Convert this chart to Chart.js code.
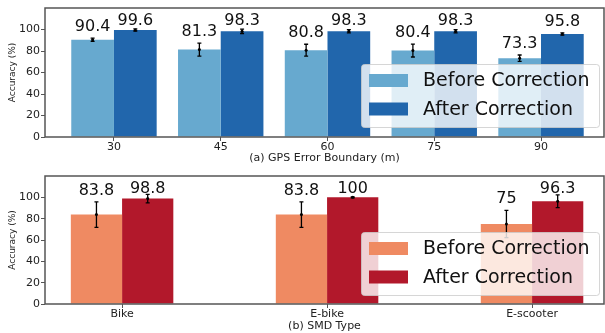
<!DOCTYPE html>
<html>
<head>
<meta charset="utf-8">
<script src="https://cdn.jsdelivr.net/npm/chart.js@4.4.1/dist/chart.umd.min.js"></script>
<style>
  body { margin: 0; background: #fff; }
  canvas { display: block; }
</style>
</head>
<body>
<canvas id="gpsChart" width="605" height="165"></canvas>
<canvas id="smdChart" width="605" height="168"></canvas>
<script>
// (a) GPS error boundary
var gpsLabels = ['30', '45', '60', '75', '90'];
var gpsBefore = [90.4, 81.3, 80.8, 80.4, 73.3];
var gpsAfter = [99.6, 98.3, 98.3, 98.3, 95.8];
var gpsBeforeErr = [1.5, 6, 5.5, 6, 3];
var gpsAfterErr = [1, 2, 1.5, 1.5, 1];

// (b) SMD type
var smdLabels = ['Bike', 'E-bike', 'E-scooter'];
var smdBefore = [83.8, 83.8, 75];
var smdAfter = [98.8, 100, 96.3];
var smdBeforeErr = [12, 12, 12.8];
var smdAfterErr = [4, 0.5, 6];

var yTicks = [0, 20, 40, 60, 80, 100];
var seriesNames = ['Before Correction', 'After Correction'];

var FONT = "'DejaVu Sans', sans-serif";

function toPoints(arr) {
	return arr.map(function(v, i) { return { x: i, y: v }; });
}

// error bars, value labels and the inner legend
var extrasPlugin = {
	id: 'extras',
	afterDatasetsDraw: function(chart) {
		var ctx = chart.ctx;
		var ya = chart.scales.y;
		var area = chart.chartArea;
		var errs = chart.options.plugins.extras.errors;

		chart.data.datasets.forEach(function(ds, di) {
			var meta = chart.getDatasetMeta(di);
			meta.data.forEach(function(bar, i) {
				var v = ds.data[i].y;
				var e = errs[di][i];
				var yTop = ya.getPixelForValue(v + e);
				var yBot = ya.getPixelForValue(v - e);
				var yMid = ya.getPixelForValue(v);
				ctx.save();
				ctx.strokeStyle = '#000';
				ctx.lineWidth = 1.3;
				ctx.beginPath();
				ctx.moveTo(bar.x, yTop); ctx.lineTo(bar.x, yBot);
				ctx.moveTo(bar.x - 2, yTop); ctx.lineTo(bar.x + 2, yTop);
				ctx.moveTo(bar.x - 2, yBot); ctx.lineTo(bar.x + 2, yBot);
				ctx.stroke();
				ctx.fillStyle = '#000';
				ctx.beginPath();
				ctx.arc(bar.x, yMid, 1.5, 0, Math.PI * 2);
				ctx.fill();

				// value label
				var base = Math.max(yTop - 7, area.top + 17);
				ctx.font = '16px ' + FONT;
				ctx.textAlign = 'center';
				ctx.textBaseline = 'alphabetic';
				ctx.fillStyle = '#111';
				ctx.fillText(String(v), bar.x, base);
				ctx.restore();
			});
		});

		// legend box, lower right inside the axes
		var bw = 238, bh = 63;
		var bx = area.right - 5 - bw;
		var by = area.bottom - chart.options.plugins.extras.legendBottom - bh;
		ctx.save();
		ctx.fillStyle = 'rgba(255,255,255,0.8)';
		ctx.strokeStyle = 'rgba(204,204,204,0.8)';
		ctx.lineWidth = 1;
		ctx.beginPath();
		ctx.roundRect(bx + 0.5, by + 0.5, bw, bh, 3);
		ctx.fill();
		ctx.stroke();
		ctx.font = '19px ' + FONT;
		ctx.textAlign = 'left';
		ctx.textBaseline = 'middle';
		chart.data.datasets.forEach(function(ds, di) {
			var cy = by + 16.5 + di * 28.5;
			ctx.fillStyle = ds.backgroundColor;
			ctx.fillRect(bx + 8, cy - 6.5, 39, 13);
			ctx.fillStyle = '#111';
			ctx.fillText(ds.label, bx + 62, cy + 1);
		});
		ctx.restore();
	},
	afterDraw: function(chart) {
		var a = chart.chartArea;
		var ctx = chart.ctx;
		ctx.save();
		ctx.strokeStyle = '#555';
		ctx.lineWidth = 1.5;
		ctx.strokeRect(a.left, a.top, a.right - a.left, a.bottom - a.top);
		ctx.restore();
	}
};

function makeChart(id, labels, before, after, beforeErr, afterErr, colors, xTitle, opts) {
	var ctx = document.getElementById(id).getContext('2d');
	return new Chart(ctx, {
		type: 'bar',
		data: {
			datasets: [{
				label: seriesNames[0],
				data: toPoints(before),
				backgroundColor: colors[0]
			}, {
				label: seriesNames[1],
				data: toPoints(after),
				backgroundColor: colors[1]
			}]
		},
		plugins: [extrasPlugin],
		options: {
			responsive: false,
			animation: false,
			devicePixelRatio: 1,
			categoryPercentage: opts.catPct,
			barPercentage: 1.0,
			layout: { padding: { top: opts.padTop, right: 1, left: 0, bottom: 0 } },
			plugins: {
				legend: { display: false },
				tooltip: { enabled: false },
				extras: { errors: [beforeErr, afterErr], legendBottom: opts.legendBottom }
			},
			scales: {
				x: {
					type: 'linear',
					offset: false,
					min: opts.xMin,
					max: opts.xMax,
					afterBuildTicks: function(scale) {
						scale.ticks = labels.map(function(c, i) { return { value: i }; });
					},
					afterFit: function(scale) { scale.height = opts.xHeight; },
					ticks: {
						color: '#222',
						padding: 0,
						maxRotation: 0,
						autoSkip: false,
						font: { family: FONT, size: 11 },
						callback: function(v) { return labels[v]; }
					},
					grid: { display: true, drawOnChartArea: false, drawTicks: true, tickLength: 4, color: '#555', offset: false },
					border: { display: false },
					title: {
						display: true,
						text: xTitle,
						color: '#222',
						padding: { top: 0, bottom: 0 },
						font: { family: FONT, size: 11 }
					}
				},
				y: {
					min: 0,
					max: 120,
					afterBuildTicks: function(scale) {
						scale.ticks = yTicks.map(function(v) { return { value: v }; });
					},
					afterFit: function(scale) { scale.width = 45; },
					ticks: {
						color: '#222',
						padding: 1,
						font: { family: FONT, size: 11 }
					},
					grid: { display: true, drawOnChartArea: false, drawTicks: true, tickLength: 4, color: '#555' },
					border: { display: false },
					title: {
						display: true,
						text: 'Accuracy (%)',
						color: '#222',
						padding: { top: 7, bottom: 0 },
						font: { family: FONT, size: 9 }
					}
				}
			}
		}
	});
}

makeChart('gpsChart', gpsLabels, gpsBefore, gpsAfter, gpsBeforeErr, gpsAfterErr,
	['#67a9cf', '#2166ac'], '(a) GPS Error Boundary (m)',
	{ catPct: 0.8, xMin: -0.646, xMax: 4.59, padTop: 8, xHeight: 28, legendBottom: 10 });

makeChart('smdChart', smdLabels, smdBefore, smdAfter, smdBeforeErr, smdAfterErr,
	['#ef8a62', '#b2182b'], '(b) SMD Type',
	{ catPct: 0.5, xMin: -0.376, xMax: 2.351, padTop: 11, xHeight: 29, legendBottom: 9 });
</script>
</body>
</html>
